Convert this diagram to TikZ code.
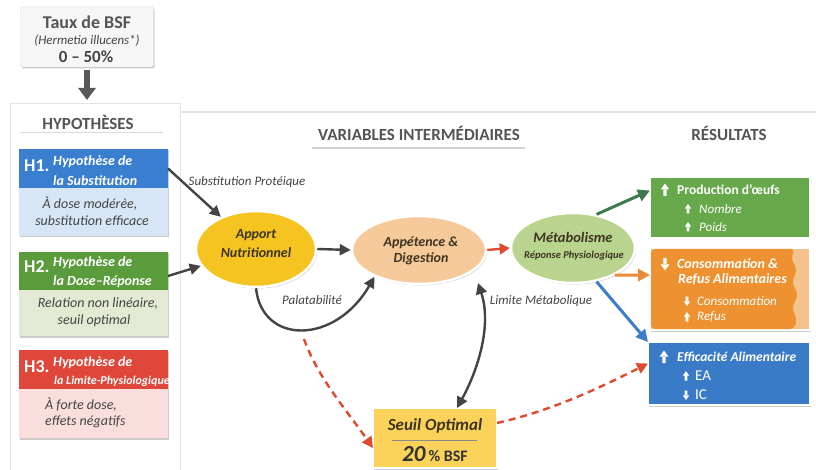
\documentclass[tikz,border=0pt]{standalone}
\usepackage{fontspec}
\setmainfont{Carlito}
\usetikzlibrary{shapes.geometric,arrows.meta,shadows,calc}
\definecolor{txt}{HTML}{444444}
\definecolor{hd}{HTML}{555555}
\definecolor{hblue}{HTML}{3A7FCF}
\definecolor{bblue}{HTML}{D6E6F6}
\definecolor{hgreen}{HTML}{5A9C3C}
\definecolor{bgreen}{HTML}{E2EAD3}
\definecolor{hred}{HTML}{E0473B}
\definecolor{bred}{HTML}{FADDDD}
\definecolor{apY}{HTML}{F5C420}
\definecolor{apdP}{HTML}{F6C99B}
\definecolor{metG}{HTML}{B9D48E}
\definecolor{prodG}{HTML}{67A84A}
\definecolor{consO}{HTML}{EE9231}
\definecolor{consL}{HTML}{F5C48E}
\definecolor{effB}{HTML}{3A7BC8}
\definecolor{seuilY}{HTML}{FBD35A}
\definecolor{redA}{HTML}{E04A2F}
\definecolor{orA}{HTML}{EC8A3A}
\definecolor{grA}{HTML}{3F7A4C}
\definecolor{blA}{HTML}{3C7DC9}
\definecolor{darkA}{HTML}{444444}
\definecolor{elltxt}{HTML}{3E3520}
\tikzset{
  box/.style={rectangle, inner sep=0pt, outer sep=0pt},
  shad/.style={drop shadow={shadow xshift=1.2pt, shadow yshift=-1.5pt, opacity=.2, fill=black}},
  ell/.style={ellipse, draw=white, line width=2.5pt, inner sep=0pt, shad},
  darr/.style={draw=darkA, line width=2.4pt, -{Triangle[length=11pt,width=11pt]}},
  redd/.style={draw=redA, line width=2.4pt, dash pattern=on 7pt off 5pt, -{Triangle[length=11pt,width=11pt]}},
  lbl/.style={font=\fontsize{13}{15}\selectfont\itshape, text=txt, inner sep=0pt},
  hdr/.style={font=\fontsize{17}{19}\selectfont\bfseries, text=hd, inner sep=0pt},
  hnum/.style={font=\fontsize{18}{20}\selectfont\bfseries, text=white, anchor=west, inner sep=0pt},
  htit/.style={font=\fontsize{14}{16}\selectfont\bfseries\itshape, text=white, anchor=west, inner sep=0pt},
  hbody/.style={font=\fontsize{14}{15}\selectfont\itshape, text=txt, inner sep=0pt},
  etxt/.style={font=\fontsize{14}{15}\selectfont\bfseries\itshape, text=elltxt, inner sep=0pt},
  rtit/.style={font=\fontsize{13.5}{15}\selectfont\bfseries, text=white, anchor=west, inner sep=0pt},
  rsub/.style={font=\fontsize{13}{15}\selectfont\itshape, text=white, anchor=west, inner sep=0pt},
  upa/.pic={\fill[white] (-1.7,6) rectangle (1.7,-1) (-4.3,-0.5) -- (4.3,-0.5) -- (0,-6.5) -- cycle;},
  dna/.pic={\fill[white] (-1.7,-6) rectangle (1.7,1) (-4.3,0.5) -- (4.3,0.5) -- (0,6.5) -- cycle;}
}
\begin{document}
\begin{tikzpicture}[x=1pt,y=-1pt]
\fill[white] (0,0) rectangle (816,470);
\useasboundingbox (0,0) rectangle (816,470);

% ---- top input box
\node[box, fill=gray!7, draw=gray!30, rounded corners=2pt, minimum width=133pt, minimum height=60pt, shad] (bsf) at (87,37) {};
\node[font=\fontsize{18}{20}\selectfont\bfseries, text=hd, inner sep=0pt] (bsft) at (87,22) {Taux de BSF};
\node[font=\fontsize{13}{15}\selectfont\itshape, text=txt, inner sep=0pt] (bsfs) at (87,41) {(Hermetia illucens*)};
\node[font=\fontsize{17}{19}\selectfont\bfseries, text=txt, inner sep=0pt] (bsfr) at (86,57) {0 – 50\%};

% ---- hypotheses panel
\node[box, fill=white, draw=gray!22, line width=1pt, minimum width=170pt, minimum height=368pt, drop shadow={shadow xshift=1pt, shadow yshift=-1pt, opacity=.12, fill=black}] (panel) at (95,288) {};
\draw[draw=black!65, line width=6pt, -{Triangle[length=12pt,width=17pt]}, shorten <=3pt, shorten >=4pt] (bsf.south) -- (bsf.south |- panel.north);
\node[hdr] (hyp) at (88,122) {HYPOTHÈSES};
\draw[gray!30, line width=1pt] (20,133) -- (163,133);

% H1
\node[box, fill=hblue, minimum width=149pt, minimum height=39pt, shad] (h1h) at (93.5,168.5) {};
\node[box, fill=bblue, minimum width=149pt, minimum height=48pt, shad] (h1b) at (93.5,212) {};
\node[hnum] (h1n) at (24,166) {H1.};
\node[htit] (h1t1) at (53,161.5) {Hypothèse de};
\node[htit] (h1t2) at (53,180.5) {la Substitution};
\node[hbody] (h1l1) at (90,204) {À dose modérèe,};
\node[hbody] (h1l2) at (92,221) {substitution efficace};

% H2
\node[box, fill=hgreen, minimum width=149pt, minimum height=38pt, shad] (h2h) at (93.5,271) {};
\node[box, fill=bgreen, minimum width=149pt, minimum height=46pt, shad] (h2b) at (93.5,313) {};
\node[hnum] (h2n) at (24,267) {H2.};
\node[htit] (h2t1) at (53,263) {Hypothèse de};
\node[htit] (h2t2) at (53,282) {la Dose–Réponse};
\node[hbody] (h2l1) at (98,304) {Relation non linéaire,};
\node[hbody] (h2l2) at (94,321) {seuil optimal};

% H3
\node[box, fill=hred, minimum width=149pt, minimum height=39pt, shad] (h3h) at (93.5,369.5) {};
\node[box, fill=bred, minimum width=149pt, minimum height=49pt, shad] (h3b) at (93.5,413.5) {};
\node[hnum] (h3n) at (24,367) {H3.};
\node[htit] (h3t1) at (53,363) {Hypothèse de};
\node[htit, font=\fontsize{12}{14}\selectfont\bfseries\itshape] (h3t2) at (54,381) {la Limite-Physiologique};
\node[hbody, anchor=west] (h3l1) at (45,405) {À forte dose,};
\node[hbody, anchor=west] (h3l2) at (45,422) {effets négatifs};

% ---- headers
\draw[gray!25, line width=1.5pt] (182,112) -- (816,112);
\node[hdr] (vi) at (419,133) {VARIABLES INTERMÉDIAIRES};
\draw[gray!35, line width=1.2pt] (312,148) -- (525,148);
\node[hdr] (res) at (729,133) {RÉSULTATS};

% ---- ellipses
\node[ell, fill=apY, minimum width=120pt, minimum height=76pt] (ap) at (256,249) {};
\node[etxt] (apt1) at (256,235) {Apport};
\node[etxt] (apt2) at (256,253) {Nutritionnel};
\node[ell, fill=apdP, minimum width=134pt, minimum height=68pt] (apd) at (419,250) {};
\node[etxt] (apdt1) at (421,243) {Appétence \&};
\node[etxt] (apdt2) at (421,259) {Digestion};
\node[ell, fill=metG, minimum width=124pt, minimum height=70pt] (met) at (573,248) {};
\node[etxt, font=\fontsize{14.5}{16}\selectfont\bfseries\itshape] (mt1) at (573,237) {Métabolisme};
\node[etxt, font=\fontsize{10.5}{12}\selectfont\bfseries\itshape] (mt2) at (574,256) {Réponse Physiologique};

% ---- seuil
\node[box, fill=seuilY, draw=white, line width=2.5pt, minimum width=124pt, minimum height=60pt, shad] (seuil) at (435,438) {};
\node[etxt, font=\fontsize{17}{19}\selectfont\bfseries\itshape] (st1) at (435,426) {Seuil Optimal};
\draw[black!45, line width=0.8pt] (392,440) -- (477,440);
\node[etxt, text=black!80] (st2) at (435,454) {{\fontsize{23}{24}\selectfont\bfseries 20} {\fontsize{16}{18}\selectfont\bfseries\upshape \% BSF}};

% ---- results boxes
\node[box, fill=prodG, draw=white, line width=2pt, minimum width=160pt, minimum height=61pt, shad] (prod) at (730,207.5) {};
\pic at (665,190) {upa};
\node[rtit] (pt1) at (677,190) {Production d'œufs};
\pic[scale=0.75] at (688,209) {upa};
\node[rsub] (pt2) at (699,209) {Nombre};
\pic[scale=0.75] at (688,227) {upa};
\node[rsub] (pt3) at (699,227) {Poids};

\node[box, fill=consL, draw=white, line width=2pt, minimum width=160pt, minimum height=82pt, shad] (cons) at (730,289) {};
\fill[consO, rounded corners=4pt] (651,249) -- (795,249) -- (791,258) -- (797,270) -- (792,282) -- (798,295) -- (792,308) -- (797,320) -- (794,329) -- (651,329) -- cycle;
\pic at (665,264) {dna};
\node[rtit, font=\fontsize{14}{15}\selectfont\bfseries\itshape] (ct1) at (677,264) {Consommation \&};
\node[rtit, font=\fontsize{14}{15}\selectfont\bfseries\itshape] (ct2) at (678,279) {Refus Alimentaires};
\pic[scale=0.75] at (687,301) {dna};
\node[rsub] (ct3) at (697,301) {Consommation};
\pic[scale=0.75] at (687,317) {upa};
\node[rsub] (ct4) at (697,317) {Refus};

\node[box, fill=effB, draw=white, line width=2.5pt, minimum width=162pt, minimum height=63pt, shad] (eff) at (729,373.5) {};
\pic at (664,357) {upa};
\node[rtit, font=\fontsize{13.5}{15}\selectfont\bfseries\itshape] (et1) at (677,357) {Efficacité Alimentaire};
\pic[scale=0.75] at (686,376) {upa};
\node[rtit, font=\fontsize{15}{16}\selectfont] (et2) at (695,376) {EA};
\pic[scale=0.75] at (686,395) {dna};
\node[rtit, font=\fontsize{15}{16}\selectfont] (et3) at (695,395) {IC};

% ---- connectors
\draw[darr] (h1h.east) -- (ap);
\node[lbl] (lsp) at (247,182) {Substitution Protéique};
\draw[darr] ([yshift=-5pt]h2h.east) -- (ap.197);
\draw[darr] (ap.east) -- (apd.west);
\draw[draw=redA, line width=2.4pt, -{Triangle[length=10pt,width=11pt]}] (apd.east) -- (met.west);
\draw[draw=grA, line width=3pt, -{Triangle[length=12pt,width=12pt]}] (met.55) -- ([yshift=17pt]prod.west);
\draw[draw=orA, line width=3pt, -{Triangle[length=12pt,width=12pt]}] (met.-33) -- ([yshift=14pt]cons.west);
\draw[draw=blA, line width=3pt, -{Triangle[length=12pt,width=12pt]}] (met.-55) -- (eff.north west);

\draw[darr] (ap.south) .. controls (262,345) and (335,345) .. (apd.211);
\node[lbl] (lpal) at (312,300) {Palatabilité};

\coordinate (pb) at (304,339);
\draw[redd] (pb) .. controls (318,378) and (345,408) .. ([yshift=-10pt]seuil.west);

\coordinate (lmtop) at (478,283);
\draw[draw=darkA, line width=2.4pt, {Triangle[length=11pt,width=11pt]}-{Triangle[length=11pt,width=11pt]}] ([xshift=22pt]seuil.north) .. controls (478,370) and (492,325) .. (lmtop);
\node[lbl] (llm) at (541,301) {Limite Métabolique};

\draw[redd] ([yshift=15pt]seuil.east) .. controls (555,410) and (605,385) .. ([yshift=10pt]eff.west);
\end{tikzpicture}
\end{document}
